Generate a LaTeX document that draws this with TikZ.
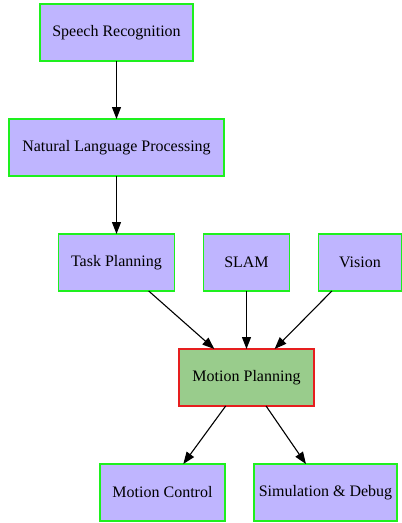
\documentclass[tikz,border=0pt]{standalone}
\usepackage{fontspec}
\setmainfont{Liberation Serif}
\usetikzlibrary{
        arrows.meta,
        positioning,
        shapes
    }
\definecolor{boxfill}{RGB}{191,181,255}
\definecolor{boxline}{RGB}{30,240,30}
\definecolor{hubfill}{RGB}{153,204,140}
\definecolor{hubline}{RGB}{230,30,30}
\tikzset{>={Triangle[length=12pt,width=9pt]},node distance=58pt}
\tikzset{module/.style={rectangle,draw=boxline,fill=boxfill,line width=1.5pt,
        minimum height=57pt,inner sep=0pt,outer sep=0pt,font=\fontsize{16}{18}\selectfont}}
\tikzset{hub/.style={module,draw=hubline,fill=hubfill}}

\begin{document}
\begin{tikzpicture}[x=1pt,y=1pt]
            \useasboundingbox (0,0) rectangle (402,-523);
            \node[module,minimum width=153pt] (sr) at (116.5,-32.5) {Speech Recognition};
            \node[module,minimum width=215pt] (nlp) [below=of sr] {Natural Language Processing};
            \node[module,minimum width=116pt] (tp) [below=of nlp] {Task Planning};
            \node[module,minimum width=86pt] (slam) [right=29pt of tp] {SLAM};
            \node[module,minimum width=83pt] (vis) [right=29pt of slam] {Vision};
            \node[hub,minimum width=135pt] (mp) [below=of slam] {Motion Planning};
            \node[module,minimum width=125pt] (mc) [below=of mp,xshift=-84pt] {Motion Control};
            \node[module,minimum width=143pt] (sim) [below=of mp,xshift=79pt] {Simulation \& Debug};
            \path[->,line width=1.1pt]
                (sr)   edge (nlp)
                (nlp)  edge (tp)
                (tp)   edge (mp)
                (slam) edge (mp)
                (vis)  edge (mp)
                (mp)   edge (mc)
                (mp)   edge (sim)
                ;
        \end{tikzpicture}
\end{document}
